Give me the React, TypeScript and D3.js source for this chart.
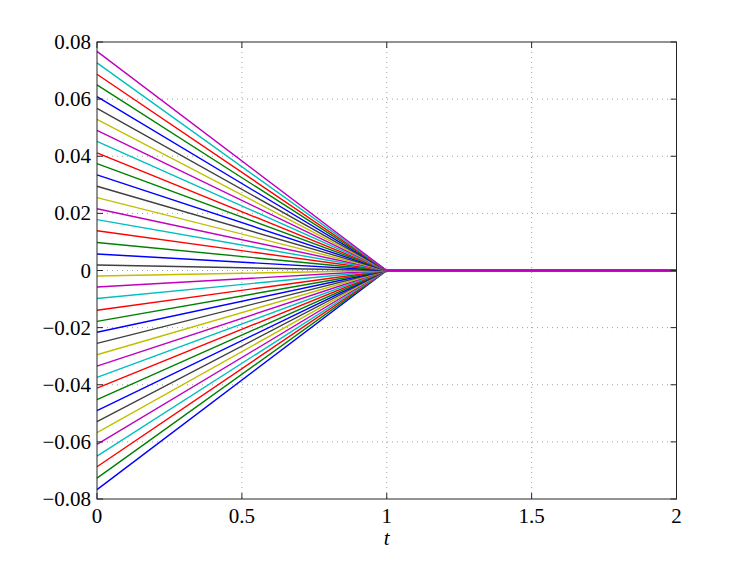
import React from "react";
import * as d3 from "d3";

// Starting values at t=0 (bottom to top); every line goes to 0 at t=1 and stays 0 until t=2
const startValues = [
  -0.0767, -0.0727, -0.0687, -0.0650, -0.0609, -0.0568, -0.0529, -0.0491, -0.0452, -0.0412,
  -0.0374, -0.0335, -0.0295, -0.0255, -0.0216, -0.0178, -0.0139, -0.0098, -0.0058, -0.0019,
  0.0019, 0.0058, 0.0098, 0.0139, 0.0178, 0.0216, 0.0255, 0.0295, 0.0335, 0.0374,
  0.0412, 0.0452, 0.0491, 0.0529, 0.0568, 0.0609, 0.0650, 0.0687, 0.0727, 0.0767,
];
const tPoints = [0, 1, 2];
const xTicks = [0, 0.5, 1, 1.5, 2];
const yTicks = [-0.08, -0.06, -0.04, -0.02, 0, 0.02, 0.04, 0.06, 0.08];
const colorCycle = ["#0000ff", "#008000", "#ff0000", "#00bfbf", "#bf00bf", "#bfbf00", "#404040"];

const W = 747;
const H = 561;
const left = 97;
const right = 676.5;
const top = 42;
const bottom = 499;

export default function App() {
  const x = d3.scaleLinear().domain([0, 2]).range([left, right]);
  const y = d3.scaleLinear().domain([-0.08, 0.08]).range([bottom, top]);
  const line = d3
    .line<[number, number]>()
    .x((d) => x(d[0]))
    .y((d) => y(d[1]));

  const fmtY = (v: number) => {
    if (v === 0) return "0";
    const s = Math.abs(v).toFixed(2);
    return (v < 0 ? "\u2212" : "") + s;
  };
  const fmtX = (v: number) => String(v);
  const font =
    "'Times New Roman', Times, Tinos, 'Liberation Serif', 'DejaVu Serif', 'Noto Serif', serif";

  return (
    <svg
      width={W}
      height={H}
      style={{ position: "absolute", left: 0, top: 0, background: "#fff", fontFamily: font }}
    >
      {/* grid */}
      {xTicks
        .filter((t) => t > 0 && t < 2)
        .map((t) => (
          <line
            key={"gx" + t}
            x1={x(t)}
            x2={x(t)}
            y1={top}
            y2={bottom}
            stroke="#a0a0a0"
            strokeWidth={1}
            strokeDasharray="1,4"
          />
        ))}
      {yTicks
        .filter((v) => v > -0.08 && v < 0.08)
        .map((v) => (
          <line
            key={"gy" + v}
            x1={left}
            x2={right}
            y1={y(v)}
            y2={y(v)}
            stroke="#a0a0a0"
            strokeWidth={1}
            strokeDasharray="1,4"
          />
        ))}

      {/* data lines */}
      {startValues.map((v, i) => {
        const pts: [number, number][] = tPoints.map((t) => [t, t === 0 ? v : 0]);
        return (
          <path
            key={"l" + i}
            d={line(pts) || ""}
            fill="none"
            stroke={colorCycle[i % colorCycle.length]}
            strokeWidth={1.4}
          />
        );
      })}

      {/* frame */}
      <rect
        x={left}
        y={top}
        width={right - left}
        height={bottom - top}
        fill="none"
        stroke="#262626"
        strokeWidth={1}
      />

      {/* ticks */}
      {xTicks.map((t) => (
        <g key={"xt" + t}>
          <line x1={x(t)} x2={x(t)} y1={bottom} y2={bottom - 6} stroke="#262626" />
          <line x1={x(t)} x2={x(t)} y1={top} y2={top + 6} stroke="#262626" />
          <text
            x={x(t)}
            y={523}
            textAnchor="middle"
            style={{ fontFamily: font, fontSize: "21px" }}
            fill="#000"
          >
            {fmtX(t)}
          </text>
        </g>
      ))}
      {yTicks.map((v) => (
        <g key={"yt" + v}>
          <line x1={left} x2={left + 6} y1={y(v)} y2={y(v)} stroke="#262626" />
          <line x1={right} x2={right - 6} y1={y(v)} y2={y(v)} stroke="#262626" />
          <text
            x={91}
            y={y(v) + 7}
            textAnchor="end"
            style={{ fontFamily: font, fontSize: "21px" }}
            fill="#000"
          >
            {fmtY(v)}
          </text>
        </g>
      ))}

      {/* axis label */}
      <text
        x={x(1)}
        y={545}
        textAnchor="middle"
        style={{ fontFamily: font, fontSize: "21px", fontStyle: "italic" }}
        fill="#000"
      >
        t
      </text>
    </svg>
  );
}
